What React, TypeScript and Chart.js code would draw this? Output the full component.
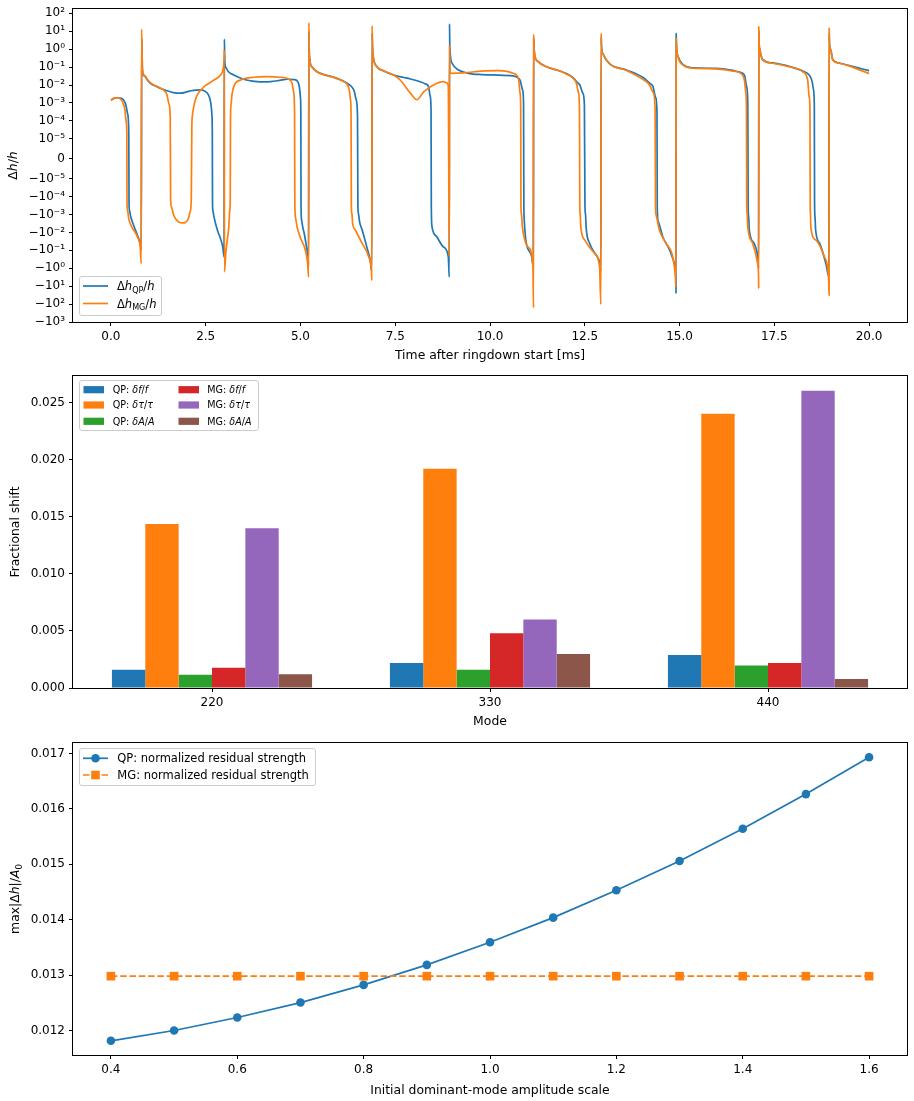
import React, { useEffect, useRef } from 'react';
import { Chart, Scale, registerables } from 'chart.js';

// ---------------- panel 1: residual ratio time series ----------------
const QP_T = [
  0.0, 0.08, 0.18, 0.28, 0.35, 0.4, 0.44, 0.472, 0.478, 0.49, 0.526, 0.614, 0.7, 0.772, 0.8, 0.812, 0.833,
  0.9, 0.96, 1.05, 1.18, 1.35, 1.5, 1.65, 1.84, 2.0, 2.12, 2.25, 2.37, 2.47, 2.54, 2.6, 2.64, 2.665, 2.675,
  2.68, 2.69, 2.72, 2.81, 2.89, 2.95, 2.985, 2.993, 3.005, 3.04, 3.1, 3.24, 3.5, 3.7, 3.86, 4.05, 4.21,
  4.45, 4.65, 4.85, 4.93, 4.97, 5.0, 5.01, 5.015, 5.03, 5.06, 5.1, 5.16, 5.2, 5.215, 5.222, 5.235, 5.3,
  5.44, 5.6, 5.88, 6.1, 6.23, 6.35, 6.42, 6.47, 6.505, 6.515, 6.53, 6.56, 6.63, 6.75, 6.84, 6.88, 6.89,
  6.9, 6.92, 7.02, 7.2, 7.46, 7.81, 8.16, 8.3, 8.38, 8.42, 8.445, 8.452, 8.47, 8.6, 8.77, 8.9, 8.925,
  8.932, 8.94, 9.0, 9.17, 9.43, 9.78, 10.2, 10.61, 10.79, 10.86, 10.885, 10.893, 10.9, 10.92, 10.96,
  11.1, 11.14, 11.152, 11.16, 11.18, 11.27, 11.49, 11.84, 12.0, 12.19, 12.3, 12.37, 12.45, 12.49,
  12.505, 12.52, 12.535, 12.63, 12.81, 12.9, 12.925, 12.933, 12.94, 12.98, 13.16, 13.6, 14.04, 14.2,
  14.3, 14.37, 14.405, 14.412, 14.44, 14.56, 14.74, 14.87, 14.905, 14.908, 14.912, 14.92, 14.96, 15.09,
  15.35, 15.96, 16.4, 16.58, 16.71, 16.77, 16.8, 16.81, 16.825, 16.84, 16.97, 17.06, 17.085, 17.092,
  17.1, 17.12, 17.19, 17.45, 17.89, 18.25, 18.42, 18.5, 18.53, 18.555, 18.562, 18.575, 18.59, 18.7,
  18.86, 18.94, 18.948, 18.955, 18.99, 19.04, 19.21, 19.56, 20.0,
];
const QP_V = [
  1.4e-3, 1.8e-3, 1.95e-3, 1.8e-3, 1.3e-3, 7e-4, 2.5e-4, 2e-5, -2e-4, -6e-4, -1.4e-3, -4.9e-3, -0.0144, -0.042, -0.09, 4, 0.06,
  0.03, 0.019, 0.012, 8.8e-3, 6e-3, 4.6e-3, 3.8e-3, 3.5e-3, 4.1e-3, 4.8e-3, 5.2e-3, 5.3e-3, 4.6e-3, 3.6e-3, 2e-3, 8e-4, 2e-4, 2e-5,
  -2e-4, -6e-4, -1.4e-3, -7.6e-3, -0.022, -0.065, -0.23, 3.6, 0.2, 0.09, 0.055, 0.036, 0.021, 0.017, 0.0153, 0.0148, 0.0153,
  0.018, 0.021, 0.02, 0.015, 8e-3, 2e-3, 3e-4, -3e-4, -2e-3, -5e-3, -0.0115, -0.065, -0.23, -0.7, 10, 0.45, 0.105,
  0.055, 0.04, 0.027, 0.018, 0.0125, 8e-3, 4.5e-3, 1.5e-3, 2e-4, -3e-4, -9e-4, -2.6e-3, -7.6e-3, -0.065, -0.36, -1.5, 8,
  1.5, 0.38, 0.105, 0.061, 0.036, 0.024, 0.0153, 0.0115, 8e-3, 2.5e-3, 4e-4, -4e-4, -4.9e-3, -0.018, -0.065, -0.23, -3.1,
  25.5, 1.4, 0.163, 0.069, 0.045, 0.038, 0.036, 0.032, 0.019, 5.3e-3, 1e-3, -3e-4, -1.4e-3, -7.6e-3, -0.042,
  -0.23, -0.8, 4, 1.5, 0.47, 0.2, 0.105, 0.061, 0.045, 0.026, 0.014, 0.01, 3.5e-3, 8e-4,
  -3e-4, -1e-3, -4.9e-3, -0.042, -0.2, -0.55, -1.5, 5, 1.5, 0.55, 0.15, 0.069, 0.026, 0.013,
  8.1e-3, 2e-3, 3e-4, -4e-4, -2.6e-3, -0.018, -0.099, -0.55, -3, -26, 7.7, 1.5, 0.4, 0.14,
  0.09, 0.085, 0.065, 0.052, 0.036, 8.1e-3, 1e-3, -3e-4, -1.5e-3, -7.6e-3, -0.042, -0.23, -1, 10,
  2, 0.9, 0.27, 0.17, 0.11, 0.06, 0.036, 0.015, 6e-3, 8e-4, -3e-4, -1.5e-3, -7.6e-3, -0.042,
  -0.55, -3, 8, 2, 0.9, 0.27, 0.17, 0.11, 0.063,
];
const MG_T = [
  0.0, 0.08, 0.18, 0.26, 0.32, 0.37, 0.4, 0.42, 0.425, 0.44, 0.47, 0.55, 0.7, 0.772, 0.8, 0.81, 0.833,
  0.9, 0.96, 1.05, 1.18, 1.3, 1.4, 1.48, 1.53, 1.565, 1.575, 1.6, 1.65, 1.71, 1.8, 1.89, 1.97, 2.04,
  2.09, 2.12, 2.135, 2.15, 2.19, 2.23, 2.28, 2.46, 2.6, 2.72, 2.89, 2.96, 2.985, 2.99, 2.995, 3.03,
  3.07, 3.11, 3.135, 3.148, 3.155, 3.17, 3.19, 3.24, 3.42, 3.77, 4.12, 4.47, 4.7, 4.78, 4.82, 4.845,
  4.852, 4.87, 4.91, 5.0, 5.13, 5.19, 5.215, 5.222, 5.235, 5.3, 5.44, 5.6, 5.88, 6.1, 6.23, 6.29, 6.32,
  6.335, 6.342, 6.36, 6.375, 6.45, 6.63, 6.8, 6.875, 6.883, 6.89, 6.9, 6.92, 7.02, 7.2, 7.46, 7.63,
  7.9, 8.07, 8.25, 8.51, 8.77, 8.86, 8.9, 8.925, 8.932, 8.95, 9.0, 9.3, 9.78, 10.2, 10.45, 10.61, 10.75,
  10.79, 10.81, 10.816, 10.83, 10.85, 10.88, 11.0, 11.13, 11.148, 11.152, 11.16, 11.18, 11.27, 11.49,
  11.84, 12.0, 12.19, 12.28, 12.33, 12.36, 12.368, 12.38, 12.395, 12.5, 12.76, 12.89, 12.925, 12.933,
  12.94, 12.98, 13.16, 13.6, 14.04, 14.21, 14.3, 14.355, 14.365, 14.38, 14.47, 14.65, 14.82, 14.89,
  14.905, 14.912, 14.92, 14.96, 15.09, 15.35, 15.96, 16.4, 16.58, 16.71, 16.75, 16.765, 16.772, 16.785,
  16.8, 16.93, 17.06, 17.085, 17.088, 17.092, 17.1, 17.12, 17.19, 17.45, 17.89, 18.25, 18.38, 18.42,
  18.44, 18.447, 18.455, 18.462, 18.6, 18.82, 18.93, 18.945, 18.948, 18.955, 18.99, 19.04, 19.21,
  19.56, 20.0,
];
const MG_V = [
  1.4e-3, 1.85e-3, 1.9e-3, 1.6e-3, 1e-3, 4e-4, 1e-4, 2e-5, -2e-4, -6e-4, -1.7e-3, -4.9e-3, -0.0178, -0.065, -0.55, 12.9, 0.069,
  0.032, 0.021, 0.013, 8.8e-3, 6.8e-3, 5e-3, 2.8e-3, 9e-4, 1.5e-4, -1.5e-4, -4e-4, -1e-3, -1.8e-3, -2.7e-3, -2.95e-3, -2.7e-3, -1.8e-3,
  -7e-4, -1.5e-4, 5e-5, 2e-4, 7e-4, 1.5e-3, 2.8e-3, 8.1e-3, 0.013, 0.019, 0.036, 0.08, 0.3, 0.9, -1.6, -0.15,
  -0.027, -4.9e-3, -6e-4, -1.5e-4, 1.5e-4, 8e-4, 2.5e-3, 8.1e-3, 0.019, 0.027, 0.029, 0.027, 0.021, 0.012, 4e-3, 3e-4,
  -3e-4, -1.5e-3, -4.9e-3, -0.02, -0.099, -0.55, -3.1, 29, 0.45, 0.1, 0.053, 0.038, 0.026, 0.017, 0.011, 5e-3, 1.5e-3,
  3e-4, -3e-4, -1e-3, -3e-3, -7.6e-3, -0.042, -0.23, -1.6, -4.7, 19.7, 1.5, 0.38, 0.105, 0.061, 0.036, 0.019,
  3.5e-3, 1.5e-3, 4.2e-3, 0.01, 0.0153, 0.013, 8e-3, -0.23, 1.7, 0.05, 0.045, 0.047, 0.06, 0.063, 0.058, 0.045, 0.024,
  4e-3, 5e-4, -3e-4, -1e-3, -3.8e-3, -0.0115, -0.065, -0.55, -160, 6.2, 1.5, 0.47, 0.2, 0.105,
  0.061, 0.042, 0.024, 0.0125, 4e-3, 5e-4, -3e-4, -1e-3, -4.9e-3, -0.027, -0.15, -0.85, -102, 7.7,
  1.5, 0.55, 0.15, 0.065, 0.02, 0.01, 4e-3, 5e-4, -3e-4, -1e-3, -7.6e-3, -0.042, -0.23, -3.1,
  -11, 4.1, 1.5, 0.38, 0.131, 0.086, 0.08, 0.06, 0.049, 0.019, 3.5e-3, 5e-4, -3e-4, -1e-3,
  -4.9e-3, -0.042, -0.55, -3, -13.6, 18, 2, 0.9, 0.25, 0.163, 0.105, 0.055, 0.019, 2.2e-3,
  4e-4, -3e-4, -1e-3, -4.9e-3, -0.027, -0.23, -3.1, -32, 14.6, 2, 0.9, 0.25, 0.163,
  0.1, 0.043,
];
const TIME_TICKS = [0, 2.5, 5, 7.5, 10, 12.5, 15, 17.5, 20];
const SYM_TICKS = [100, 10, 1, 0.1, 0.01, 1e-3, 1e-4, 1e-5, 0, -1e-5, -1e-4, -1e-3, -1e-2, -1e-1, -1, -10, -100, -1000];
const SYM_LABELS = ['10²', '10¹', '10⁰', '10⁻¹', '10⁻²', '10⁻³', '10⁻⁴', '10⁻⁵', '0', '−10⁻⁵', '−10⁻⁴', '−10⁻³', '−10⁻²', '−10⁻¹', '−10⁰', '−10¹', '−10²', '−10³'];

// ---------------- panel 2: fractional parameter shifts per mode ----------------
const MODES = ['220', '330', '440'];
const QP_DF = [0.0016, 0.0022, 0.0029];
const QP_DTAU = [0.01438, 0.01922, 0.02404];
const QP_DA = [0.00117, 0.0016, 0.00198];
const MG_DF = [0.00178, 0.00481, 0.00219];
const MG_DTAU = [0.014, 0.00601, 0.02605];
const MG_DA = [0.0012, 0.00298, 0.00079];
const SHIFT_TICKS = [0, 0.005, 0.01, 0.015, 0.02, 0.025];

// ---------------- panel 3: residual strength vs amplitude scale ----------------
const AMP_SCALE = [0.4, 0.5, 0.6, 0.7, 0.8, 0.9, 1.0, 1.1, 1.2, 1.3, 1.4, 1.5, 1.6];
const QP_RESID = [0.011816, 0.012002, 0.012236, 0.012506, 0.012825, 0.013186, 0.013595, 0.014038, 0.014532, 0.015059, 0.015641, 0.016267, 0.016933];
const MG_RESID = [0.012982, 0.012982, 0.012982, 0.012982, 0.012982, 0.012982, 0.012982, 0.012982, 0.012982, 0.012982, 0.012982, 0.012982, 0.012982];
const AMP_TICKS = [0.4, 0.6, 0.8, 1.0, 1.2, 1.4, 1.6];
const RESID_TICKS = [0.012, 0.013, 0.014, 0.015, 0.016, 0.017];

const BLUE = '#1f77b4';
const ORANGE = '#ff7f0e';
const GREEN = '#2ca02c';
const RED = '#d62728';
const PURPLE = '#9467bd';
const BROWN = '#8c564b';

const FONT = '"DejaVu Sans", "Liberation Sans", sans-serif';
const FS = 11.5; // legend text
const TICK_FS = 12;
const TITLE_FS = 12.4;

// ---------------- symmetric log scale (linthresh 1e-5, linscale 1) ----------------
const LINTHRESH = 1e-5;
const LINSCALE_ADJ = 1 / (1 - 0.1);
function symT(v: number): number {
  const a = Math.abs(v);
  if (a <= LINTHRESH) return (v / LINTHRESH) * LINSCALE_ADJ;
  return Math.sign(v) * (LINSCALE_ADJ + Math.log10(a / LINTHRESH));
}
function symInv(t: number): number {
  const a = Math.abs(t);
  if (a <= LINSCALE_ADJ) return (t / LINSCALE_ADJ) * LINTHRESH;
  return Math.sign(t) * LINTHRESH * Math.pow(10, a - LINSCALE_ADJ);
}

class SymlogScale extends (Scale as any) {
  static id = 'symlog';
  static defaults = {};
  determineDataLimits() {
    const o: any = (this as any).options;
    (this as any).min = o.min;
    (this as any).max = o.max;
  }
  buildTicks() {
    return SYM_TICKS.map((v) => ({ value: v }));
  }
  configure() {
    super.configure();
    (this as any)._t0 = symT((this as any).min);
    (this as any)._t1 = symT((this as any).max);
  }
  getLabelForValue(v: number) {
    return String(v);
  }
  getPixelForValue(v: number) {
    const s: any = this;
    return s.getPixelForDecimal((symT(v) - s._t0) / (s._t1 - s._t0));
  }
  getValueForPixel(p: number) {
    const s: any = this;
    return symInv(s._t0 + s.getDecimalForPixel(p) * (s._t1 - s._t0));
  }
}

Chart.register(...registerables, SymlogScale as any);
Chart.defaults.font.family = FONT;

// ---------------- drawing helpers ----------------
type Seg = { t: string; it?: boolean; sub?: boolean };
const S = (t: string, it = false, sub = false): Seg => ({ t, it, sub });

function fontOf(size: number, it?: boolean) {
  return `${it ? 'italic ' : ''}${size}px ${FONT}`;
}

function drawRich(ctx: CanvasRenderingContext2D, segs: Seg[], x: number, cy: number, size: number, align: 'left' | 'center', rotated = false) {
  ctx.save();
  let w = 0;
  for (const s of segs) {
    ctx.font = fontOf(s.sub ? size * 0.7 : size, s.it);
    w += ctx.measureText(s.t).width;
  }
  ctx.translate(x, cy);
  if (rotated) ctx.rotate(-Math.PI / 2);
  let cx = align === 'center' ? -w / 2 : 0;
  ctx.fillStyle = '#000';
  ctx.textBaseline = 'alphabetic';
  ctx.textAlign = 'left';
  const base = size * 0.36;
  for (const s of segs) {
    const fs = s.sub ? size * 0.7 : size;
    ctx.font = fontOf(fs, s.it);
    ctx.fillText(s.t, cx, base + (s.sub ? size * 0.22 : 0));
    cx += ctx.measureText(s.t).width;
  }
  ctx.restore();
}

function drawFrame(ctx: CanvasRenderingContext2D, a: any) {
  ctx.save();
  ctx.strokeStyle = '#000';
  ctx.lineWidth = 1;
  const l = Math.round(a.left) - 0.5;
  const t = Math.round(a.top) - 0.5;
  const r = Math.round(a.right) + 0.5;
  const b = Math.round(a.bottom) + 0.5;
  ctx.strokeRect(l, t, r - l, b - t);
  ctx.restore();
}

function legendFrame(ctx: CanvasRenderingContext2D, x0: number, y0: number, x1: number, y1: number) {
  const rr = 2.5;
  ctx.save();
  ctx.beginPath();
  ctx.moveTo(x0 + rr, y0);
  ctx.arcTo(x1, y0, x1, y1, rr);
  ctx.arcTo(x1, y1, x0, y1, rr);
  ctx.arcTo(x0, y1, x0, y0, rr);
  ctx.arcTo(x0, y0, x1, y0, rr);
  ctx.closePath();
  ctx.fillStyle = 'rgba(255,255,255,0.8)';
  ctx.fill();
  ctx.strokeStyle = '#cccccc';
  ctx.lineWidth = 1;
  ctx.stroke();
  ctx.restore();
}

function hLine(ctx: CanvasRenderingContext2D, x0: number, x1: number, y: number, color: string, dash: number[] = []) {
  ctx.save();
  ctx.strokeStyle = color;
  ctx.lineWidth = 1.7;
  ctx.setLineDash(dash);
  ctx.beginPath();
  ctx.moveTo(x0, y);
  ctx.lineTo(x1, y);
  ctx.stroke();
  ctx.restore();
}

function axisBase(extraTicks: any = {}) {
  return {
    grid: { display: true, drawOnChartArea: false, drawTicks: true, tickLength: 4, tickWidth: 1, tickColor: '#000' },
    border: { display: false },
    ticks: { color: '#000', font: { family: FONT, size: TICK_FS }, padding: 4, autoSkip: false, maxRotation: 0, minRotation: 0, ...extraTicks },
  };
}

function xFit(h: number) {
  return (s: any) => {
    s.height = h;
    s.paddingLeft = 0;
    s.paddingRight = 0;
  };
}
function yFit(s: any) {
  s.width = 73;
  s.paddingTop = 0;
  s.paddingBottom = 0;
}

const commonOptions = {
  responsive: false,
  maintainAspectRatio: false,
  animation: false as const,
  devicePixelRatio: 1,
  events: [] as any[],
  plugins: { legend: { display: false }, tooltip: { enabled: false } },
};

// ---------------- chart configurations ----------------
function timeSeriesConfig(): any {
  const overlay = {
    id: 'tsOverlay',
    afterDraw(chart: any) {
      const ctx: CanvasRenderingContext2D = chart.ctx;
      const a = chart.chartArea;
      drawFrame(ctx, a);
      drawRich(ctx, [S('Δ'), S('h', true), S('/'), S('h', true)], 13, (a.top + a.bottom) / 2, TITLE_FS, 'center', true);
      drawRich(ctx, [S('Time after ringdown start [ms]')], (a.left + a.right) / 2, a.bottom + 33, TITLE_FS, 'center');
      legendFrame(ctx, 79.5, 276.5, 161.5, 315.5);
      hLine(ctx, 83, 108, 286, BLUE);
      hLine(ctx, 83, 108, 303.5, ORANGE);
      drawRich(ctx, [S('Δ'), S('h', true), S('QP', false, true), S('/'), S('h', true)], 117, 286, FS, 'left');
      drawRich(ctx, [S('Δ'), S('h', true), S('MG', false, true), S('/'), S('h', true)], 117, 303.5, FS, 'left');
    },
  };
  const line = (label: string, t: number[], v: number[], color: string, order: number) => ({
    label, data: t.map((x, i) => ({ x, y: v[i] })), borderColor: color, borderWidth: 1.7,
    pointRadius: 0, cubicInterpolationMode: 'monotone', order,
  });
  return {
    type: 'line',
    data: {
      datasets: [line('QP', QP_T, QP_V, BLUE, 1), line('MG', MG_T, MG_V, ORANGE, 0)],
    },
    options: {
      ...commonOptions,
      layout: { padding: { top: 9, right: 7, left: 0, bottom: 0 }, autoPadding: false },
      scales: {
        x: {
          type: 'linear', min: -1, max: 21, ...axisBase({ callback: (v: number) => Number(v).toFixed(1) }),
          afterBuildTicks: (s: any) => { s.ticks = TIME_TICKS.map((v) => ({ value: v })); },
          afterFit: xFit(43),
        },
        y: {
          type: 'symlog', min: -1000, max: 174, ...axisBase({ callback: (v: number) => SYM_LABELS[SYM_TICKS.indexOf(v)] }),
          afterFit: yFit,
        },
      },
    },
    plugins: [overlay],
  };
}

function shiftsConfig(): any {
  const items: { c: string; segs: Seg[] }[] = [
    { c: BLUE, segs: [S('QP: '), S('δf', true), S('/'), S('f', true)] },
    { c: ORANGE, segs: [S('QP: '), S('δτ', true), S('/'), S('τ', true)] },
    { c: GREEN, segs: [S('QP: '), S('δA', true), S('/'), S('A', true)] },
    { c: RED, segs: [S('MG: '), S('δf', true), S('/'), S('f', true)] },
    { c: PURPLE, segs: [S('MG: '), S('δτ', true), S('/'), S('τ', true)] },
    { c: BROWN, segs: [S('MG: '), S('δA', true), S('/'), S('A', true)] },
  ];
  const overlay = {
    id: 'shiftOverlay',
    afterDraw(chart: any) {
      const ctx: CanvasRenderingContext2D = chart.ctx;
      const a = chart.chartArea;
      drawFrame(ctx, a);
      drawRich(ctx, [S('Fractional shift')], 15, (a.top + a.bottom) / 2, TITLE_FS, 'center', true);
      drawRich(ctx, [S('Mode')], (a.left + a.right) / 2, a.bottom + 33, TITLE_FS, 'center');
      legendFrame(ctx, 79.5, 15.5, 258.5, 65.5);
      const rows = [24.7, 40, 56.3];
      items.forEach((it, i) => {
        const col = Math.floor(i / 3);
        const y = rows[i % 3];
        const px = col === 0 ? 83.5 : 178.5;
        const tx = col === 0 ? 112.7 : 207.3;
        ctx.fillStyle = it.c;
        ctx.fillRect(px, y - 3.6, 20.5, 7.2);
        drawRich(ctx, it.segs, tx, y, 9.6, 'left');
      });
    },
  };
  const bar = (label: string, data: number[], color: string) => ({
    label, data, backgroundColor: color, borderWidth: 0, categoryPercentage: 0.72, barPercentage: 1.0,
  });
  return {
    type: 'bar',
    data: {
      labels: MODES,
      datasets: [
        bar('QP: δf/f', QP_DF, BLUE),
        bar('QP: δτ/τ', QP_DTAU, ORANGE),
        bar('QP: δA/A', QP_DA, GREEN),
        bar('MG: δf/f', MG_DF, RED),
        bar('MG: δτ/τ', MG_DTAU, PURPLE),
        bar('MG: δA/A', MG_DA, BROWN),
      ],
    },
    options: {
      ...commonOptions,
      layout: { padding: { top: 11, right: 7, left: 0, bottom: 0 }, autoPadding: false },
      scales: {
        x: {
          type: 'category', offset: true, ...axisBase(),
          grid: { display: true, offset: false, drawOnChartArea: false, drawTicks: true, tickLength: 4, tickWidth: 1, tickColor: '#000' },
          afterFit: xFit(47),
        },
        y: {
          type: 'linear', min: 0, max: 0.02735, ...axisBase({ callback: (v: number) => Number(v).toFixed(3) }),
          afterBuildTicks: (s: any) => { s.ticks = SHIFT_TICKS.map((v) => ({ value: v })); },
          afterFit: yFit,
        },
      },
    },
    plugins: [overlay],
  };
}

function residualConfig(): any {
  const overlay = {
    id: 'residOverlay',
    afterDraw(chart: any) {
      const ctx: CanvasRenderingContext2D = chart.ctx;
      const a = chart.chartArea;
      drawFrame(ctx, a);
      drawRich(ctx, [S('max|Δ'), S('h', true), S('|/'), S('A', true), S('0', false, true)], 15, (a.top + a.bottom) / 2, TITLE_FS, 'center', true);
      drawRich(ctx, [S('Initial dominant-mode amplitude scale')], (a.left + a.right) / 2, a.bottom + 35, TITLE_FS, 'center');
      legendFrame(ctx, 79.5, 13.5, 315.5, 50.5);
      const r1 = 23.3;
      const r2 = 40;
      hLine(ctx, 83, 108, r1, BLUE);
      ctx.fillStyle = BLUE;
      ctx.beginPath();
      ctx.arc(95.5, r1, 4.3, 0, Math.PI * 2);
      ctx.fill();
      hLine(ctx, 83, 108, r2, ORANGE, [6.5, 2.8]);
      ctx.fillStyle = ORANGE;
      ctx.fillRect(95.5 - 4.3, r2 - 4.3, 8.6, 8.6);
      drawRich(ctx, [S('QP: normalized residual strength')], 117.3, r1, FS, 'left');
      drawRich(ctx, [S('MG: normalized residual strength')], 117.3, r2, FS, 'left');
    },
  };
  return {
    type: 'line',
    data: {
      datasets: [
        {
          label: 'QP: normalized residual strength', data: AMP_SCALE.map((s, i) => ({ x: s, y: QP_RESID[i] })),
          borderColor: BLUE, backgroundColor: BLUE, borderWidth: 1.7, tension: 0,
          pointStyle: 'circle', pointRadius: 4.3, pointBorderWidth: 0, pointBackgroundColor: BLUE, order: 1,
        },
        {
          label: 'MG: normalized residual strength', data: AMP_SCALE.map((s, i) => ({ x: s, y: MG_RESID[i] })),
          borderColor: ORANGE, backgroundColor: ORANGE, borderWidth: 1.7, borderDash: [6.5, 2.8], tension: 0,
          pointStyle: 'rect', pointRadius: 6.1, pointBorderWidth: 0, pointBackgroundColor: ORANGE, order: 0,
        },
      ],
    },
    options: {
      ...commonOptions,
      layout: { padding: { top: 8, right: 7, left: 0, bottom: 0 }, autoPadding: false },
      scales: {
        x: {
          type: 'linear', min: 0.34, max: 1.66, ...axisBase({ callback: (v: number) => Number(v).toFixed(1) }),
          afterBuildTicks: (s: any) => { s.ticks = AMP_TICKS.map((v) => ({ value: v })); },
          afterFit: xFit(46),
        },
        y: {
          type: 'linear', min: 0.01156, max: 0.017189, ...axisBase({ callback: (v: number) => Number(v).toFixed(3) }),
          afterBuildTicks: (s: any) => { s.ticks = RESID_TICKS.map((v) => ({ value: v })); },
          afterFit: yFit,
        },
      },
    },
    plugins: [overlay],
  };
}

export default function App() {
  const c1 = useRef<HTMLCanvasElement>(null);
  const c2 = useRef<HTMLCanvasElement>(null);
  const c3 = useRef<HTMLCanvasElement>(null);

  useEffect(() => {
    const charts = [
      new Chart(c1.current as HTMLCanvasElement, timeSeriesConfig()),
      new Chart(c2.current as HTMLCanvasElement, shiftsConfig()),
      new Chart(c3.current as HTMLCanvasElement, residualConfig()),
    ];
    return () => charts.forEach((c) => c.destroy());
  }, []);

  return (
    <div style={{ position: 'absolute', left: 0, top: 0, width: 914, height: 1101, background: '#fff' }}>
      <canvas ref={c1} width={914} height={365} style={{ position: 'absolute', left: 0, top: 0, width: 914, height: 365 }} />
      <canvas ref={c2} width={914} height={370} style={{ position: 'absolute', left: 0, top: 365, width: 914, height: 370 }} />
      <canvas ref={c3} width={914} height={366} style={{ position: 'absolute', left: 0, top: 735, width: 914, height: 366 }} />
    </div>
  );
}
